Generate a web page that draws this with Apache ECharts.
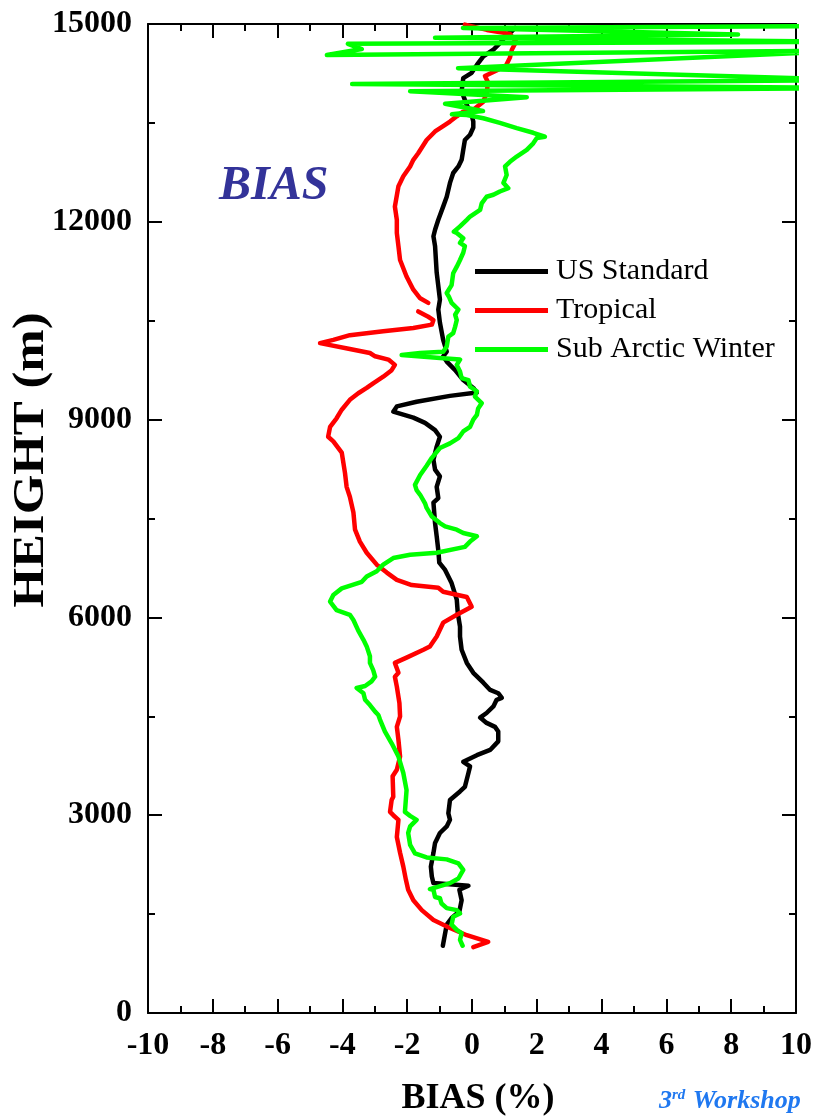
<!DOCTYPE html>
<html>
<head>
<meta charset="utf-8">
<script src="https://cdn.jsdelivr.net/npm/echarts@6/dist/echarts.min.js"></script>
<style>
html,body{margin:0;padding:0;background:#fff;}
#chart{width:814px;height:1116px;}
</style>
</head>
<body>
<div id="chart"></div>
<script>
// ---- data: [bias (%), height (m)] ----
var seriesNames = ['US Standard', 'Tropical', 'Sub Arctic Winter'];
var xTicks = [-10, -8, -6, -4, -2, 0, 2, 4, 6, 8, 10];
var yTicks = [0, 3000, 6000, 9000, 12000, 15000];

var usStandard = [[-0.90,1020],[-0.78,1340],[-0.63,1440],[-0.39,1540],[-0.32,1710],[-0.39,1870],[-0.11,1930],[-1.19,1970],[-1.24,2070],[-1.27,2220],[-1.19,2430],[-1.14,2580],[-0.99,2730],[-0.78,2830],[-0.68,2930],[-0.73,3030],[-0.68,3230],[-0.37,3360],[-0.22,3430],[-0.11,3640],[-0.06,3740],[-0.27,3810],[0.15,3910],[0.56,3990],[0.81,4120],[0.81,4270],[0.71,4340],[0.45,4400],[0.25,4480],[0.45,4550],[0.66,4650],[0.76,4750],[0.92,4780],[0.81,4850],[0.56,4900],[0.35,5010],[0.04,5160],[-0.16,5310],[-0.32,5510],[-0.37,5710],[-0.37,5860],[-0.44,6070],[-0.47,6270],[-0.63,6520],[-0.83,6720],[-1.01,6830],[-1.04,7020],[-1.09,7230],[-1.14,7430],[-1.19,7740],[-1.04,7810],[-1.09,7980],[-0.99,8140],[-1.14,8240],[-1.19,8390],[-1.09,8590],[-0.99,8740],[-1.14,8840],[-1.45,8950],[-1.81,9030],[-2.43,9120],[-2.32,9200],[-1.71,9270],[-0.68,9360],[0.15,9410],[0.04,9480],[-0.27,9600],[-0.52,9750],[-0.78,9880],[-0.89,9960],[-0.78,10030],[-0.89,10210],[-0.99,10470],[-1.04,10670],[-0.99,10820],[-1.09,11230],[-1.14,11630],[-1.19,11780],[-1.14,11880],[-1.04,12030],[-0.89,12230],[-0.78,12380],[-0.68,12590],[-0.58,12740],[-0.42,12840],[-0.32,12940],[-0.27,13090],[-0.22,13240],[-0.06,13320],[0.04,13430],[0.04,13520],[-0.01,13620],[-0.16,13770],[-0.32,13980],[-0.27,14180],[-0.01,14260],[0.15,14380],[0.35,14510],[0.66,14610],[0.92,14740],[1.07,14840],[1.23,14890],[1.33,14940]];

var tropical = [[0.04,1000],[0.50,1080],[-0.16,1180],[-0.68,1290],[-1.19,1410],[-1.55,1560],[-1.81,1710],[-1.97,1870],[-2.04,2020],[-2.12,2220],[-2.22,2430],[-2.32,2670],[-2.27,2930],[-2.43,3000],[-2.53,3050],[-2.48,3230],[-2.43,3280],[-2.45,3590],[-2.32,3690],[-2.22,3890],[-2.27,4140],[-2.32,4340],[-2.22,4500],[-2.24,4700],[-2.32,4950],[-2.38,5100],[-2.27,5160],[-2.38,5310],[-2.02,5390],[-1.50,5510],[-1.30,5560],[-1.09,5710],[-0.89,5920],[-0.47,6040],[-0.01,6160],[-0.16,6310],[-0.89,6390],[-1.04,6450],[-1.86,6490],[-2.32,6570],[-2.63,6680],[-2.94,6800],[-3.25,6980],[-3.46,7150],[-3.61,7330],[-3.66,7590],[-3.77,7830],[-3.87,7980],[-3.92,8190],[-4.02,8500],[-4.28,8670],[-4.44,8740],[-4.38,8890],[-4.18,9020],[-4.02,9150],[-3.77,9300],[-3.51,9400],[-3.25,9480],[-3.05,9550],[-2.74,9650],[-2.48,9750],[-2.38,9830],[-2.58,9910],[-2.99,9960],[-3.15,10010],[-3.77,10070],[-4.69,10160],[-4.28,10210],[-3.77,10280],[-2.74,10340],[-1.81,10390],[-1.24,10440],[-1.19,10510],[-1.35,10560],[-1.66,10640],['-','-'],[-1.35,10770],[-1.60,10840],[-1.81,10970],[-2.02,11170],[-2.22,11420],[-2.27,11630],[-2.32,11830],[-2.32,12030],[-2.38,12230],[-2.27,12540],[-2.12,12690],[-1.91,12840],[-1.81,12940],[-1.66,13040],[-1.40,13240],[-1.14,13370],[-0.89,13450],[-0.68,13520],[-0.47,13600],[-0.27,13670],[0.04,13700],[0.35,13820],[0.46,13970],[0.49,14120],[0.40,14210],[0.74,14290],[1.05,14370],[1.17,14490],[1.23,14610],[1.36,14730],[1.17,14850],[0.46,14910],[-0.22,14990]];

var subArcticWinter = [[-0.29,1020],[-0.37,1110],[-0.32,1210],[-0.47,1260],[-0.63,1340],[-0.58,1460],[-0.37,1510],[-0.47,1560],[-0.78,1590],[-0.94,1660],[-0.99,1740],[-1.14,1760],[-1.19,1870],[-1.30,1880],[-1.09,1910],[-0.68,1970],[-0.42,2040],[-0.27,2170],[-0.42,2270],[-0.78,2330],[-1.40,2360],[-1.76,2420],[-1.91,2550],[-1.97,2730],[-1.91,2830],[-1.71,2930],[-1.91,2990],[-2.07,3050],[-2.02,3380],[-2.12,3640],[-2.27,3890],[-2.48,4090],[-2.69,4270],[-2.84,4450],[-2.89,4520],[-2.99,4570],[-3.15,4670],[-3.30,4750],[-3.35,4850],[-3.56,4930],[-3.30,4960],[-3.10,5030],[-2.99,5100],[-3.05,5200],[-3.15,5310],[-3.15,5410],[-3.25,5560],[-3.35,5660],[-3.51,5800],[-3.66,5960],[-3.77,6040],[-4.18,6110],[-4.38,6240],[-4.28,6340],[-4.02,6440],[-3.40,6540],[-3.25,6620],[-2.94,6700],[-2.74,6800],[-2.43,6900],[-1.91,6950],[-1.09,6980],[-0.22,7070],[-0.06,7150],[0.15,7230],[-0.27,7280],[-0.47,7330],[-0.83,7380],[-0.99,7430],[-1.24,7530],[-1.40,7660],[-1.45,7730],[-1.60,7860],[-1.71,7930],[-1.76,8010],[-1.60,8160],[-1.40,8300],[-1.24,8420],[-0.99,8570],[-0.68,8640],[-0.42,8720],[-0.27,8820],[-0.06,8890],[0.04,9000],[0.15,9070],[0.19,9170],[0.30,9250],[0.09,9350],[0.15,9430],[-0.06,9500],[-0.11,9600],[-0.32,9630],[-0.37,9730],[-0.47,9830],[-0.37,9910],[-0.89,9930],[-2.17,9980],[-1.60,10010],[-0.89,10030],[-0.78,10110],[-0.73,10260],[-0.58,10310],[-0.52,10410],[-0.47,10510],[-0.52,10590],[-0.42,10670],[-0.63,10770],[-0.71,10860],[-0.78,10920],[-0.63,11040],[-0.58,11220],[-0.47,11320],[-0.37,11420],[-0.27,11530],[-0.22,11630],[-0.37,11680],[-0.27,11750],[-0.47,11830],[-0.56,11850],[-0.37,11930],[-0.16,12030],[-0.06,12080],[0.25,12180],[0.30,12280],[0.45,12380],[0.66,12410],[0.86,12460],[1.12,12510],[0.97,12590],[1.07,12710],[1.02,12840],[1.17,12910],[1.38,12990],[1.69,13090],[1.89,13190],[2.00,13270],[2.25,13290],[1.89,13350],[1.38,13420],[0.86,13500],[0.35,13570],[-0.16,13620],[-0.62,13630],[0.34,13680],[-0.83,13790],[1.69,13890],[-1.91,13980],[12,14030],[-3.70,14090],[12,14150],[-0.43,14330],[12,14600],[-4.48,14530],[-3.40,14620],[-3.83,14700],[12,14730],[-1.14,14790],[8.21,14840],[-0.28,14940],[12,14970]];

var seriesColors = ['#000000', '#ff0000', '#00ff00'];

var chart = echarts.init(document.getElementById('chart'), null, {renderer: 'canvas'});
var FONT = 'Liberation Serif';

function axisCommon(showLabel, isX) {
  return {
    type: 'value',
    axisLine: {show: true, onZero: false, lineStyle: {color: '#000', width: 2}},
    axisTick: {show: true, inside: true, length: 14, lineStyle: {color: '#000', width: 2}},
    minorTick: {show: true, splitNumber: 2, length: 7, lineStyle: {color: '#000', width: 2}},
    splitLine: {show: false},
    axisLabel: {
      show: showLabel,
      fontFamily: FONT, fontWeight: 'bold', fontSize: 32, color: '#000',
      margin: isX ? 17 : 16,
      formatter: function (v) { return String(v); }
    }
  };
}

var xBottom = Object.assign(axisCommon(true, true), {position: 'bottom', min: xTicks[0], max: xTicks[xTicks.length-1], interval: 2,
  name: 'BIAS (%)', nameLocation: 'middle', nameGap: 68,
  nameTextStyle: {fontFamily: FONT, fontWeight: 'bold', fontSize: 36, color: '#000', padding: [0, 0, 0, 12]}});
var xTop = Object.assign(axisCommon(false, true), {position: 'top', min: xTicks[0], max: xTicks[xTicks.length-1], interval: 2});
var yLeft = Object.assign(axisCommon(true, false), {position: 'left', min: yTicks[0], max: yTicks[yTicks.length-1], interval: 3000});
var yRight = Object.assign(axisCommon(false, false), {position: 'right', min: yTicks[0], max: yTicks[yTicks.length-1], interval: 3000});

var datasets = [usStandard, tropical, subArcticWinter];
var series = seriesNames.map(function (n, i) {
  return {
    name: n, type: 'line', xAxisIndex: 0, yAxisIndex: 0,
    data: datasets[i], symbol: 'none', showSymbol: false,
    connectNulls: false, clip: true,
    lineStyle: {color: seriesColors[i], width: 4.5, cap: 'round', join: 'round'},
    itemStyle: {color: seriesColors[i]},
    z: 2 + i
  };
});

chart.setOption({
  animation: false,
  backgroundColor: '#ffffff',
  grid: {left: 148, right: 18, top: 24, bottom: 103, containLabel: false, outerBoundsMode: 'none'},
  xAxis: [xBottom, xTop],
  yAxis: [yLeft, yRight],
  legend: {
    data: seriesNames,
    orient: 'vertical',
    left: 475, top: 256, padding: 0,
    icon: 'rect', itemWidth: 73, itemHeight: 5, itemGap: 8,
    textStyle: {fontFamily: FONT, fontSize: 30, color: '#000', lineHeight: 31, padding: [0, 0, 0, 3]}
  },
  graphic: [
    {type: 'text', left: 219, top: 163,
      style: {text: 'BIAS', font: 'italic bold 48px "Liberation Serif"', fill: '#333399'}},
    {type: 'text', x: 31, y: 460, rotation: Math.PI / 2, scaleX: 1.13, scaleY: 1,
      style: {text: 'HEIGHT (m)', font: 'bold 45px "Liberation Serif"', fill: '#000', textAlign: 'center', textVerticalAlign: 'middle'}},
    {type: 'text', left: 659, top: 1088,
      style: {
        text: '{n|3}{s|rd}{n| Workshop}',
        rich: {
          n: {font: 'italic bold 26px "Liberation Serif"', fill: '#1f78f0', verticalAlign: 'bottom'},
          s: {font: 'italic bold 15px "Liberation Serif"', fill: '#1f78f0', verticalAlign: 'top', padding: [0, 1, 11, 0]}
        }
      }}
  ],
  series: series
});
</script>
</body>
</html>
